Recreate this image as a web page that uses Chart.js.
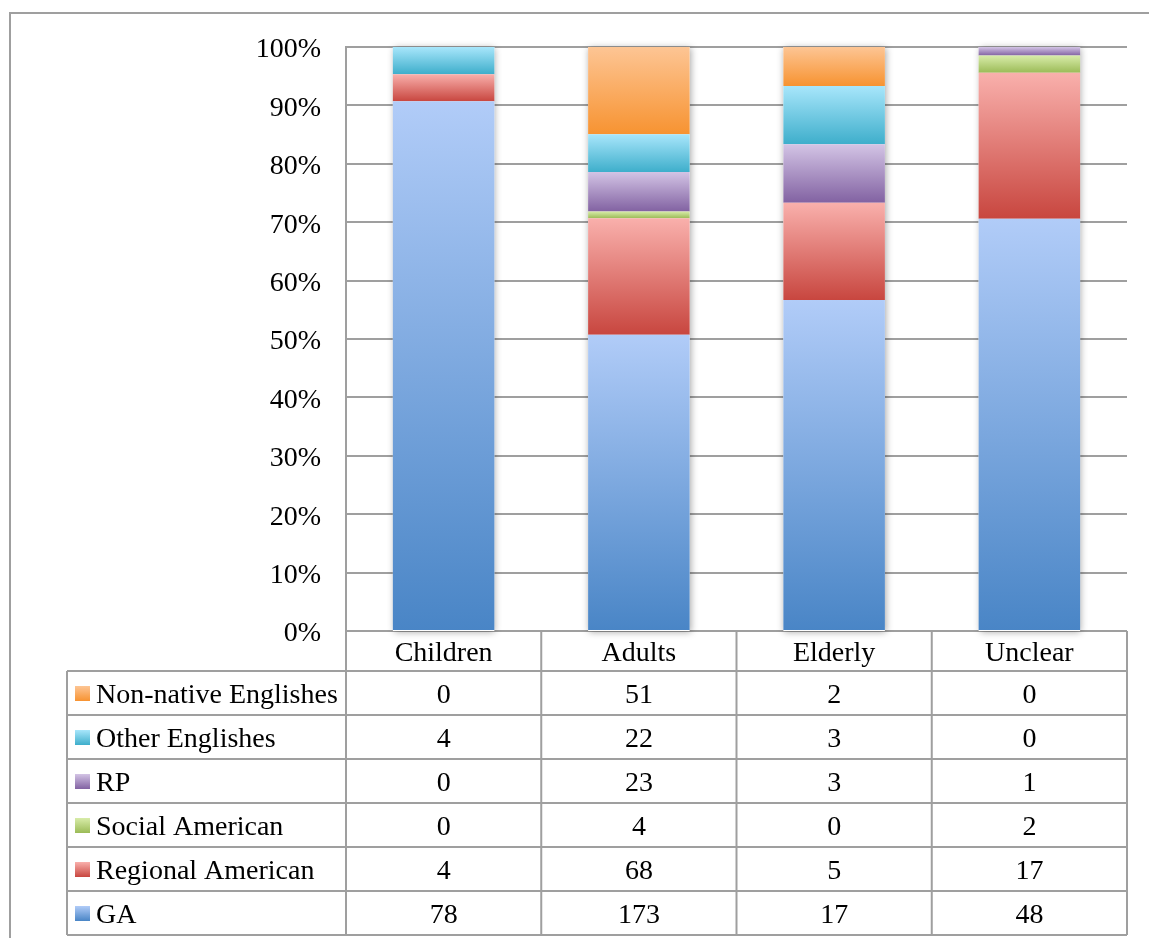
<!DOCTYPE html>
<html>
<head>
<meta charset="utf-8">
<title>Accent types by age group</title>
<script src="https://cdn.jsdelivr.net/npm/chart.js"></script>
<style>
  html, body { margin: 0; padding: 0; background: #fff; }
  canvas { display: block; }
</style>
</head>
<body>
<canvas id="accentChart" width="1149" height="938"></canvas>
<script>
// age groups along the x axis
var categories = ['Children', 'Adults', 'Elderly', 'Unclear'];

// raw counts per accent type (bottom of the stack first)
var seriesNames = ['GA', 'Regional American', 'Social American', 'RP', 'Other Englishes', 'Non-native Englishes'];
var gaCounts = [78, 173, 17, 48];
var regionalCounts = [4, 68, 5, 17];
var socialCounts = [0, 4, 0, 2];
var rpCounts = [0, 23, 3, 1];
var otherCounts = [4, 22, 3, 0];
var nonNativeCounts = [0, 51, 2, 0];

var allCounts = [gaCounts, regionalCounts, socialCounts, rpCounts, otherCounts, nonNativeCounts];

// top / bottom colour of each segment gradient
var gradColors = [
  ['#b1ccf8', '#4985c6'],
  ['#f9b0ac', '#c8463f'],
  ['#d8eca9', '#9bbb57'],
  ['#d3c4e5', '#8262a2'],
  ['#a8e6fb', '#3eaecb'],
  ['#fdc594', '#f79331']
];

var FONT = '28px "Liberation Serif", "Times New Roman", serif';
var LINE = '#9f9f9f';

// column totals and percentage shares
var totals = categories.map(function (c, j) {
  return allCounts.reduce(function (s, arr) { return s + arr[j]; }, 0);
});
var shares = allCounts.map(function (arr) {
  return arr.map(function (v, j) { return v / totals[j] * 100; });
});
var bases = shares.map(function (arr, i) {
  return arr.map(function (v, j) {
    var b = 0;
    for (var k = 0; k < i; k++) b += shares[k][j];
    return b;
  });
});

function segmentFill(i) {
  return function (c) {
    var chart = c.chart;
    if (!chart.chartArea || c.type !== 'data') return gradColors[i][0];
    var y = chart.scales.y;
    var j = c.dataIndex;
    var top = y.getPixelForValue(bases[i][j] + shares[i][j]);
    var bot = y.getPixelForValue(bases[i][j]);
    if (bot - top < 1) return gradColors[i][1];
    var g = chart.ctx.createLinearGradient(0, top, 0, bot);
    g.addColorStop(0, gradColors[i][0]);
    g.addColorStop(1, gradColors[i][1]);
    return g;
  };
}

var datasets = seriesNames.map(function (name, i) {
  return {
    label: name,
    data: shares[i],
    backgroundColor: segmentFill(i),
    borderWidth: 0,
    barPercentage: 0.52,
    categoryPercentage: 1
  };
});

// outer frame, soft shadow under each column, and the data table
var decorations = {
  id: 'decorations',
  beforeDraw: function (chart) {
    var ctx = chart.ctx;
    ctx.save();
    ctx.strokeStyle = LINE;
    ctx.lineWidth = 2;
    ctx.beginPath();
    ctx.moveTo(10, chart.height);
    ctx.lineTo(10, 13);
    ctx.lineTo(chart.width, 13);
    ctx.stroke();
    ctx.restore();
  },
  beforeDatasetsDraw: function (chart) {
    var ctx = chart.ctx;
    var y = chart.scales.y;
    var meta = chart.getDatasetMeta(0);
    ctx.save();
    ctx.shadowColor = 'rgba(0,0,0,0.35)';
    ctx.shadowBlur = 7;
    ctx.shadowOffsetX = 1;
    ctx.shadowOffsetY = 1;
    ctx.fillStyle = '#ffffff';
    meta.data.forEach(function (bar) {
      var w = bar.width;
      var top = y.getPixelForValue(100);
      var bot = y.getPixelForValue(0);
      ctx.fillRect(bar.x - w / 2, top, w, bot - top);
    });
    ctx.restore();
  },
  afterDraw: function (chart) {
    var ctx = chart.ctx;
    var x = chart.scales.x;
    var area = chart.chartArea;
    var colW = (x.right - x.left) / categories.length;
    var tableLeft = 67;
    var headTop = area.bottom;
    var headBot = headTop + 40;
    var rowH = 44;
    var rows = seriesNames.length;
    var tableBot = headBot + rowH * rows;

    ctx.save();
    ctx.strokeStyle = LINE;
    ctx.lineWidth = 2;
    ctx.beginPath();
    // horizontal rules
    for (var r = 0; r <= rows; r++) {
      var yy = headBot + r * rowH;
      ctx.moveTo(tableLeft, yy);
      ctx.lineTo(x.right, yy);
    }
    // vertical rules
    ctx.moveTo(tableLeft, headBot);
    ctx.lineTo(tableLeft, tableBot);
    for (var c = 0; c <= categories.length; c++) {
      var xx = x.left + c * colW;
      ctx.moveTo(xx, headTop);
      ctx.lineTo(xx, tableBot);
    }
    ctx.stroke();

    ctx.font = FONT;
    ctx.fillStyle = '#000';
    ctx.textBaseline = 'middle';
    ctx.textAlign = 'center';
    categories.forEach(function (cat, j) {
      ctx.fillText(cat, x.getPixelForValue(j), (headTop + headBot) / 2 + 3);
    });

    // rows run top-down from the last series to the first
    for (var k = 0; k < rows; k++) {
      var s = rows - 1 - k;
      var rowTop = headBot + k * rowH;
      var cy = rowTop + rowH / 2 + 3;
      var key = ctx.createLinearGradient(0, cy - 10, 0, cy + 5);
      key.addColorStop(0, gradColors[s][0]);
      key.addColorStop(1, gradColors[s][1]);
      ctx.fillStyle = key;
      ctx.fillRect(75, cy - 10, 15, 15);
      ctx.fillStyle = '#000';
      ctx.textAlign = 'left';
      ctx.fillText(seriesNames[s], 96, cy);
      ctx.textAlign = 'center';
      allCounts[s].forEach(function (v, j) {
        ctx.fillText(String(v), x.getPixelForValue(j), cy);
      });
    }
    ctx.restore();
  }
};

var ctx = document.getElementById('accentChart').getContext('2d');
var myChart = new Chart(ctx, {
  type: 'bar',
  data: {
    labels: categories,
    datasets: datasets
  },
  options: {
    responsive: false,
    animation: false,
    layout: {
      padding: { top: 47, right: 22, bottom: 307, left: 0 }
    },
    plugins: {
      legend: { display: false },
      tooltip: { enabled: false }
    },
    scales: {
      x: {
        stacked: true,
        display: false
      },
      y: {
        stacked: true,
        min: 0,
        max: 100,
        afterFit: function (scale) { scale.width = 346; },
        ticks: {
          stepSize: 10,
          padding: 25,
          labelOffset: 3,
          color: '#000',
          font: { family: '"Liberation Serif", "Times New Roman", serif', size: 28 },
          callback: function (v) { return v + '%'; }
        },
        grid: {
          color: LINE,
          lineWidth: 2,
          drawTicks: false
        },
        border: { color: LINE, width: 2 }
      }
    }
  },
  plugins: [decorations]
});
</script>
</body>
</html>
